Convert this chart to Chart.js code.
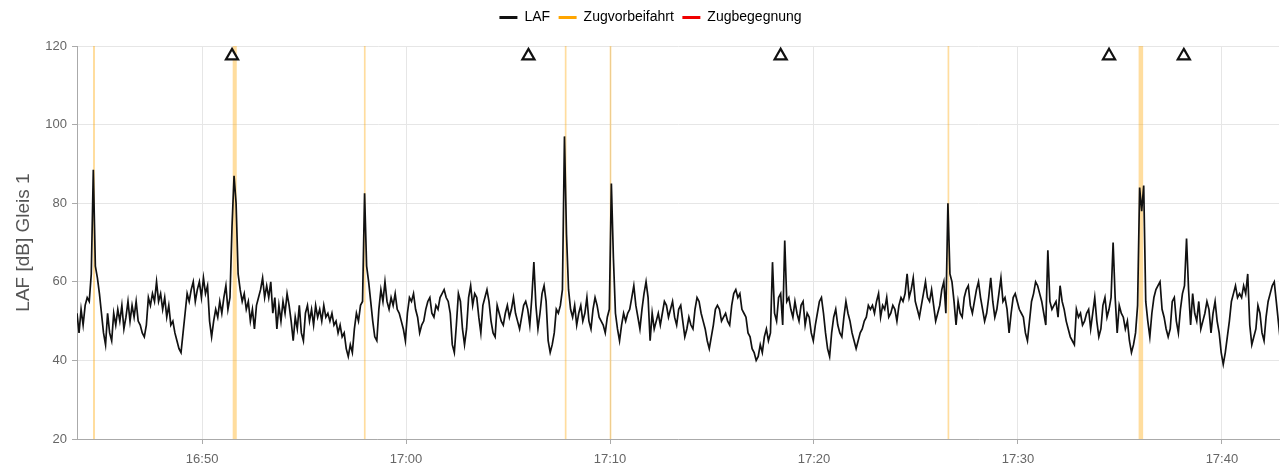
<!DOCTYPE html>
<html lang="de">
<head>
<meta charset="utf-8">
<title>LAF Gleis 1</title>
<script src="https://cdn.jsdelivr.net/npm/chart.js@4.4.1/dist/chart.umd.min.js"></script>
<style>
  html, body { margin: 0; padding: 0; background: #fff; }
  #wrap { width: 1280px; height: 469px; }
</style>
</head>
<body>
<div id="wrap"><canvas id="chartLaf"></canvas></div>
<script>
// LAF-Pegel Gleis 1, ein Wert alle 6 s ab lafStart
const lafStart   = '16:43:52';
const lafStepSec = 6;
const lafValues  = [
    52, 47, 53, 49, 54, 56, 55, 62, 88.5, 64,
    61, 57, 52, 47, 44, 52, 47, 45, 52, 49,
    53, 50, 54, 48, 51, 55, 50, 54, 51, 55,
    50, 49, 47, 46, 49, 56, 54, 57, 55, 60,
    55, 57, 53, 56, 51, 54, 49, 50, 47, 45,
    43, 42, 47, 52, 57, 55, 58, 60, 55, 58,
    60, 56, 61, 57, 59, 50, 46, 50, 53, 51,
    55, 52, 56, 59, 53, 56, 74, 87, 80, 62,
    58, 55, 57, 53, 55, 50, 53, 48, 54, 56,
    58, 61, 56, 59, 56, 60, 52, 56, 48, 54,
    50, 55, 52, 57, 54, 50, 45, 51, 48, 54,
    47, 45, 52, 54, 50, 53, 49, 54, 51, 53,
    50, 54, 51, 52, 50, 52, 49, 50, 47, 49,
    46, 47, 43, 41, 44, 42, 48, 52, 50, 54,
    55, 82.5, 64, 60, 55, 50, 46, 45, 53, 58,
    55, 60, 55, 53, 56, 54, 57, 53, 52, 50,
    48, 45, 52, 56, 55, 57, 53, 51, 47, 49,
    50, 53, 55, 56, 52, 51, 54, 53, 56, 57,
    58, 56, 55, 52, 44, 42, 49, 57, 55, 48,
    44, 48, 56, 59, 54, 57, 56, 51, 47, 54,
    56, 58, 55, 50, 47, 46, 54, 52, 50, 49,
    52, 54, 51, 53, 56, 52, 50, 48, 51, 54,
    55, 53, 49, 56, 65, 54, 48, 52, 57, 59,
    55, 45, 42, 44, 47, 53, 52, 54, 58, 97,
    72, 58, 53, 51, 54, 49, 52, 54, 50, 52,
    56, 50, 48, 53, 56, 54, 51, 50, 49, 47,
    51, 53, 85, 66, 52, 48, 45, 49, 52, 50,
    52, 53, 56, 59, 54, 51, 48, 53, 57, 60,
    56, 45, 52, 48, 50, 52, 49, 52, 55, 54,
    51, 53, 55, 51, 49, 53, 54, 50, 46, 48,
    51, 49, 48, 53, 56, 55, 52, 50, 48, 45,
    43, 46, 49, 53, 54, 53, 50, 51, 52, 50,
    49, 54, 57, 58, 56, 57, 53, 52, 51, 47,
    46, 43, 42, 40, 41, 44, 42, 46, 48, 45,
    47, 65, 52, 50, 56, 57, 49, 70.5, 55, 56,
    53, 51, 55, 52, 50, 54, 55, 49, 52, 51,
    47, 45, 49, 52, 55, 56, 52, 47, 43, 41,
    47, 51, 53, 49, 47, 46, 51, 55, 52, 50,
    47, 45, 43, 45, 47, 48, 50, 51, 54, 53,
    54, 52, 55, 57, 51, 54, 53, 56, 51, 52,
    54, 53, 50, 54, 56, 55, 57, 62, 56, 58,
    61, 55, 53, 51, 54, 57, 60, 56, 55, 58,
    54, 50, 52, 54, 58, 60, 52, 80, 62, 60,
    55, 49, 55, 52, 51, 56, 58, 59, 54, 52,
    55, 58, 60, 56, 53, 50, 52, 56, 61, 55,
    51, 53, 57, 61, 55, 56, 53, 47, 52, 56,
    57, 55, 53, 52, 51, 47, 45, 50, 55, 57,
    60, 59, 57, 55, 52, 49, 68, 55, 53, 54,
    55, 51, 59, 55, 53, 50, 48, 46, 45, 44,
    53, 51, 52, 49, 50, 52, 53, 48, 52, 56,
    50, 46, 48, 54, 56, 51, 53, 56, 70, 56,
    47, 54, 52, 51, 48, 50, 45, 42, 44, 47,
    54, 84, 78, 84.5, 55, 50, 46, 52, 56, 58,
    59, 60, 53, 51, 48, 46, 48, 55, 56, 50,
    47, 53, 57, 59, 71, 58, 49, 57, 52, 50,
    55, 48, 50, 52, 55, 53, 47, 52, 55, 50,
    47, 42, 39, 42, 46, 50, 55, 57, 59, 56,
    57, 56, 59, 57, 62, 49, 44, 46, 48, 54,
    52, 47, 45, 51, 55, 57, 59, 60, 55, 50,
    45
];

// Zugvorbeifahrten: Beginn und Ende
const passStart = ['16:44:39', '16:51:30', '16:57:56', '17:07:47', '17:09:59', '17:26:33', '17:35:55'];
const passEnd   = ['16:44:45', '16:51:42', '16:58:01', '17:07:52', '17:10:04', '17:26:38', '17:36:09'];

// Zugbegegnungen: im Zeitraum keine
const meetStart = [];
const meetEnd   = [];

// Markierungen am oberen Rand
const markerTimes = ['16:51:28', '17:06:00', '17:18:22', '17:34:28', '17:38:08'];
const markerLevel = 117.5;

// Achsen
const xFrom       = '16:43:52';
const xTo         = '17:42:48';
const xTickLabels = ['16:50', '17:00', '17:10', '17:20', '17:30', '17:40'];
const yMin        = 20;
const yMax        = 120;
const yStep       = 20;

Chart.defaults.font.family = "'Liberation Sans', Arial, sans-serif";
Chart.defaults.font.size   = 13;
Chart.defaults.color       = '#666';

/**
 * Abstand zwischen Legende und Diagrammfläche, Legende leicht nach rechts versetzt.
 */
const legendSpacing = {
    id: 'legendSpacing',
    beforeLayout(chart) {
        const legend = chart.legend;
        if (!legend || legend._spacingPatched) return;
        const fit = legend.fit.bind(legend);
        legend.fit = function () {
            fit();
            this.height += 11.5;
        };
        legend._spacingPatched = true;
    },
    afterLayout(chart) {
        const legend = chart.legend;
        if (!legend) return;
        legend.left  += 11;
        legend.right += 11;
    },
};

document.addEventListener('DOMContentLoaded', function () {
    initLafChart();
});

/**
 * 'HH:MM:SS' -> Sekunden seit Mitternacht
 */
function toSec(hms) {
    const [h, m, s] = hms.split(':').map(Number);
    return h * 3600 + m * 60 + (s || 0);
}

/**
 * Sekunden seit Mitternacht -> 'HH:MM'
 */
function formatHM(sec) {
    const h = Math.floor(sec / 3600);
    const m = Math.floor((sec % 3600) / 60);
    return String(h).padStart(2, '0') + ':' + String(m).padStart(2, '0');
}

/**
 * Baut aus Beginn/Ende Rechtecke über die ganze Höhe, die per fill gefüllt werden.
 */
function bandPoints(starts, ends) {
    const pts = [];
    starts.forEach((s, i) => {
        const a = toSec(s);
        const b = toSec(ends[i]);
        pts.push({ x: a, y: yMin }, { x: a, y: yMax }, { x: b, y: yMax }, { x: b, y: yMin });
    });
    return pts;
}

function initLafChart() {
    const canvas = document.getElementById('chartLaf');
    if (!canvas) return;

    const t0 = toSec(lafStart);
    const lafData = lafValues.map((v, i) => ({ x: t0 + i * lafStepSec, y: v }));
    const markers = markerTimes.map(t => ({ x: toSec(t), y: markerLevel }));

    const legendItems = [
        { text: 'LAF',            fillStyle: '#111111', datasetIndex: 0 },
        { text: 'Zugvorbeifahrt', fillStyle: '#ffa500', datasetIndex: 1 },
        { text: 'Zugbegegnung',   fillStyle: '#f00000', datasetIndex: 2 },
    ];

    new Chart(canvas, {
        type: 'line',
        plugins: [legendSpacing],
        data: {
            datasets: [
                {
                    label: 'LAF',
                    data: lafData,
                    borderColor: '#111',
                    borderWidth: 1.7,
                    pointRadius: 0,
                    tension: 0,
                    fill: false,
                    order: 1,
                },
                {
                    label: 'Zugvorbeifahrt',
                    data: bandPoints(passStart, passEnd),
                    borderColor: 'rgba(0,0,0,0)',
                    borderWidth: 0,
                    backgroundColor: 'rgba(255, 165, 0, 0.38)',
                    pointRadius: 0,
                    fill: 'start',
                    order: 3,
                },
                {
                    label: 'Zugbegegnung',
                    data: bandPoints(meetStart, meetEnd),
                    borderColor: 'rgba(0,0,0,0)',
                    borderWidth: 0,
                    backgroundColor: 'rgba(240, 0, 0, 0.38)',
                    pointRadius: 0,
                    fill: 'start',
                    order: 2,
                },
                {
                    label: 'Marker',
                    data: markers,
                    showLine: false,
                    pointStyle: 'triangle',
                    pointRadius: 7,
                    pointBorderWidth: 2.2,
                    pointBorderColor: '#111',
                    pointBackgroundColor: '#fff',
                    order: 0,
                },
            ],
        },
        options: {
            responsive: true,
            maintainAspectRatio: false,
            animation: false,
            layout: {
                autoPadding: false,
                padding: { top: 2, right: 1, bottom: 0, left: 0 },
            },
            plugins: {
                tooltip: { enabled: false },
                legend: {
                    position: 'top',
                    labels: {
                        boxWidth: 18,
                        boxHeight: 3,
                        padding: 8.5,
                        color: '#444',
                        font: { size: 14 },
                        generateLabels: () => legendItems.map(it => ({
                            text: it.text,
                            fillStyle: it.fillStyle,
                            strokeStyle: it.fillStyle,
                            lineWidth: 0,
                            hidden: false,
                            datasetIndex: it.datasetIndex,
                        })),
                    },
                },
            },
            scales: {
                x: {
                    type: 'linear',
                    min: toSec(xFrom),
                    max: toSec(xTo),
                    afterBuildTicks: scale => {
                        scale.ticks = xTickLabels.map(l => ({ value: toSec(l + ':00') }));
                    },
                    ticks: {
                        autoSkip: false,
                        maxRotation: 0,
                        padding: 8,
                        callback: v => formatHM(v),
                    },
                    grid: { color: '#e6e6e6', tickColor: '#aaa', tickLength: 5 },
                    border: { color: '#aaa' },
                    afterFit: scale => { scale.height = 30; },
                },
                y: {
                    min: yMin,
                    max: yMax,
                    ticks: { stepSize: yStep, padding: 5 },
                    grid: { color: '#e6e6e6', tickColor: '#aaa', tickLength: 5 },
                    border: { color: '#aaa' },
                    title: {
                        display: true,
                        text: 'LAF [dB] Gleis 1',
                        color: '#555',
                        font: { size: 19 },
                        padding: { top: 12, bottom: 0 },
                    },
                    afterFit: scale => { scale.width = 77; },
                },
            },
        },
    });
}
</script>
</body>
</html>
